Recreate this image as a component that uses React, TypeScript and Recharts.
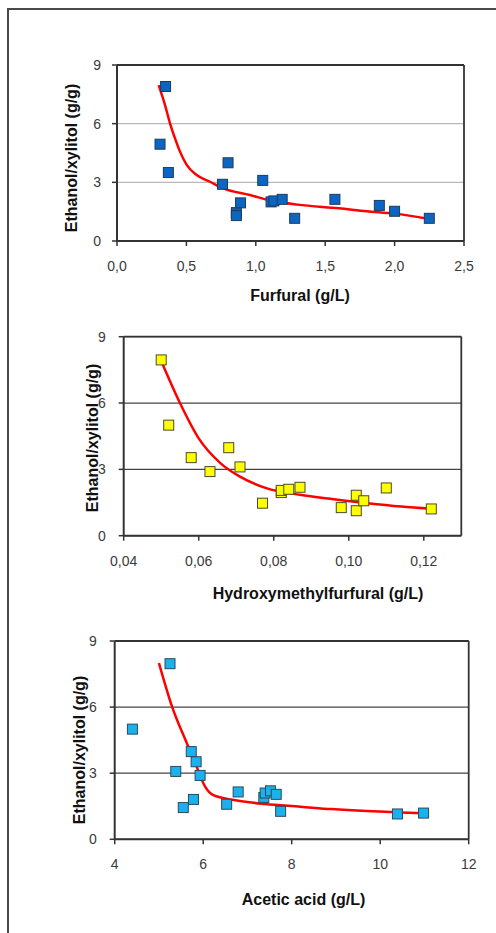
import { ComposedChart, Scatter, Line, XAxis, YAxis, CartesianGrid, ReferenceLine } from "recharts"

// measured points, ethanol/xylitol ratio (g/g)
const furfuralX = [0.35, 0.31, 0.37, 0.76, 0.8, 0.86, 0.86, 0.89, 1.05, 1.11, 1.13, 1.19, 1.28, 1.57, 1.89, 2.0, 2.25]
const furfuralY = [7.9, 4.95, 3.5, 2.9, 4.0, 1.45, 1.3, 1.95, 3.1, 2.0, 2.05, 2.13, 1.16, 2.13, 1.82, 1.52, 1.16]

const hmfX = [0.05, 0.052, 0.058, 0.063, 0.068, 0.071, 0.077, 0.082, 0.082, 0.084, 0.087, 0.098, 0.102, 0.102, 0.104, 0.11, 0.122]
const hmfY = [7.95, 5.0, 3.53, 2.9, 3.98, 3.11, 1.47, 1.95, 2.05, 2.1, 2.19, 1.27, 1.83, 1.13, 1.58, 2.16, 1.21]

const aceticX = [5.25, 4.4, 5.38, 5.55, 5.73, 5.84, 5.78, 5.93, 6.53, 6.79, 7.37, 7.4, 7.52, 7.65, 7.75, 10.39, 10.98]
const aceticY = [7.97, 5.0, 3.08, 1.44, 3.98, 3.52, 1.81, 2.9, 1.59, 2.15, 1.9, 2.1, 2.2, 2.04, 1.27, 1.15, 1.19]

// fitted curves
const furfuralFitX = [0.3, 0.346, 0.382, 0.418, 0.454, 0.502, 0.574, 0.67, 0.766, 0.958, 1.1, 1.3, 1.6, 1.8, 2.0, 2.25]
const furfuralFitY = [7.97, 6.95, 6.02, 5.25, 4.57, 3.89, 3.37, 3.03, 2.69, 2.35, 2.08, 1.86, 1.67, 1.52, 1.4, 1.12]

const hmfFitX = [0.05, 0.055, 0.06, 0.066, 0.071, 0.078, 0.087, 0.096, 0.105, 0.114, 0.122]
const hmfFitY = [7.9, 6.0, 4.4, 3.25, 2.67, 2.15, 1.85, 1.65, 1.47, 1.32, 1.22]

const aceticFitX = [5.0, 5.3, 5.63, 5.85, 6.04, 6.23, 6.7, 7.4, 8.2, 8.9, 9.7, 10.45, 11.0]
const aceticFitY = [8.0, 6.0, 4.36, 3.3, 2.4, 2.0, 1.78, 1.6, 1.48, 1.37, 1.28, 1.22, 1.18]

const yTicks = [0, 3, 6, 9]
const furfuralTicks = [0, 0.5, 1.0, 1.5, 2.0, 2.5]
const hmfTicks = [0.04, 0.06, 0.08, 0.1, 0.12]
const aceticTicks = [4, 6, 8, 10, 12]

const zip = (xs: number[], ys: number[]) => xs.map((x, i) => ({ x, y: ys[i] }))

const FONT = "Arial, 'Liberation Sans', sans-serif"
const AXIS_COLOR = "#333"

const square = (fill: string, stroke: string) => (props: any) => {
  const { cx, cy } = props
  if (cx == null || cy == null) return <g />
  return <rect x={cx - 5} y={cy - 5} width={10} height={10} fill={fill} stroke={stroke} strokeWidth={1} />
}

interface PanelProps {
  top: number
  height: number
  margin: { top: number; right: number; left: number; bottom: number }
  xDomain: [number, number]
  xTicks: number[]
  decimals: number
  points: { x: number; y: number }[]
  fit: { x: number; y: number }[]
  fill: string
  stroke: string
  gridColor: string
  yTickGap: number
}

function Panel(p: PanelProps) {
  const fmt = (v: number) => v.toFixed(p.decimals).replace(".", ",")
  return (
    <div style={{ position: "absolute", left: 0, top: p.top }}>
      <ComposedChart width={496} height={p.height} margin={p.margin}>
        <CartesianGrid vertical={false} stroke={p.gridColor} strokeWidth={1.2} />
        <XAxis
          type="number"
          dataKey="x"
          domain={p.xDomain}
          ticks={p.xTicks}
          tickFormatter={fmt}
          height={30}
          tickSize={5}
          tickMargin={15}
          axisLine={{ stroke: AXIS_COLOR, strokeWidth: 2 }}
          tickLine={{ stroke: AXIS_COLOR, strokeWidth: 1.5 }}
          tick={{ fontSize: 14, fill: "#3a3a3a", fontFamily: FONT }}
          allowDataOverflow
        />
        <YAxis
          type="number"
          dataKey="y"
          domain={[0, 9]}
          ticks={yTicks}
          width={40}
          tickSize={5}
          tickMargin={p.yTickGap}
          axisLine={{ stroke: AXIS_COLOR, strokeWidth: 2 }}
          tickLine={{ stroke: AXIS_COLOR, strokeWidth: 1.5 }}
          tick={{ fontSize: 14, fill: "#3a3a3a", fontFamily: FONT }}
        />
        <ReferenceLine y={9} stroke={AXIS_COLOR} strokeWidth={1.8} />
        <ReferenceLine x={p.xDomain[1]} stroke={AXIS_COLOR} strokeWidth={1.8} />
        <Line data={p.fit} dataKey="y" type="monotone" stroke="#ff0000" strokeWidth={2.5} dot={false} isAnimationActive={false} />
        <Scatter data={p.points} dataKey="y" shape={square(p.fill, p.stroke)} isAnimationActive={false} />
      </ComposedChart>
    </div>
  )
}

const titleStyle = {
  position: "absolute" as const,
  fontFamily: FONT,
  fontWeight: 700,
  fontSize: 16,
  color: "#111",
  whiteSpace: "nowrap" as const,
  lineHeight: 1,
}

function XTitle({ x, y, text }: { x: number; y: number; text: string }) {
  return <div style={{ ...titleStyle, left: x, top: y, transform: "translate(-50%, -50%)" }}>{text}</div>
}

function YTitle({ x, y, text }: { x: number; y: number; text: string }) {
  return <div style={{ ...titleStyle, left: x, top: y, transform: "translate(-50%, -50%) rotate(-90deg)" }}>{text}</div>
}

export default function App() {
  return (
    <div style={{ position: "absolute", left: 0, top: 0, width: 496, height: 933, overflow: "hidden", background: "#fff" }}>
      <div style={{ position: "absolute", left: 7, top: 8, width: 600, height: 1000, borderLeft: "2px solid #4a4a4a", borderTop: "2px solid #4a4a4a" }} />

      <Panel
        top={0}
        height={300}
        margin={{ top: 65, right: 32, left: 77, bottom: 29 }}
        xDomain={[0, 2.5]}
        xTicks={furfuralTicks}
        decimals={1}
        points={zip(furfuralX, furfuralY)}
        fit={zip(furfuralFitX, furfuralFitY)}
        fill="#0a66c2"
        stroke="#1d3b5c"
        gridColor="#b8b8b8"
        yTickGap={11}
      />
      <YTitle x={72} y={158} text="Ethanol/xylitol (g/g)" />
      <XTitle x={300} y={296} text="Furfural (g/L)" />

      <Panel
        top={310}
        height={260}
        margin={{ top: 26.7, right: 34.7, left: 83.7, bottom: 4.3 }}
        xDomain={[0.04, 0.13]}
        xTicks={hmfTicks}
        decimals={2}
        points={zip(hmfX, hmfY)}
        fit={zip(hmfFitX, hmfFitY)}
        fill="#ffff00"
        stroke="#4a4a2a"
        gridColor="#444"
        yTickGap={13}
      />
      <YTitle x={92.5} y={438} text="Ethanol/xylitol (g/g)" />
      <XTitle x={318} y={594} text="Hydroxymethylfurfural (g/L)" />

      <Panel
        top={620}
        height={260}
        margin={{ top: 21, right: 27.3, left: 74.7, bottom: 10.7 }}
        xDomain={[4, 12]}
        xTicks={aceticTicks}
        decimals={0}
        points={zip(aceticX, aceticY)}
        fit={zip(aceticFitX, aceticFitY)}
        fill="#1ab2ee"
        stroke="#2a4a5c"
        gridColor="#444"
        yTickGap={13}
      />
      <YTitle x={79.5} y={750} text="Ethanol/xylitol (g/g)" />
      <XTitle x={303.5} y={900} text="Acetic acid (g/L)" />
    </div>
  )
}
